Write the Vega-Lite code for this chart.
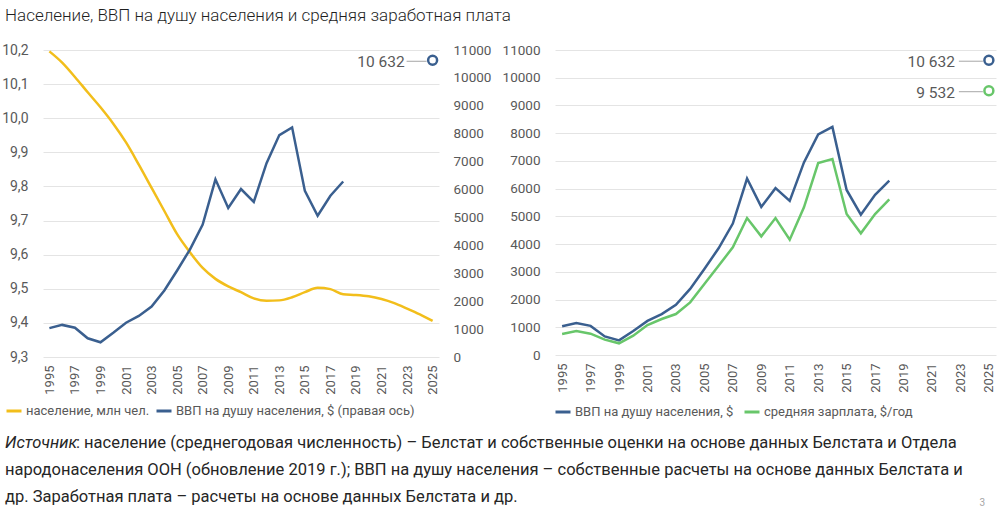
{
  "$schema": "https://vega.github.io/schema/vega-lite/v6.json",
  "padding": {"left": 0, "top": 7, "right": 0, "bottom": 0},
  "background": "white",
  "config": {
    "locale": {"number": {"decimal": ",", "thousands": "\u00a0", "grouping": [3], "currency": ["", ""]}},
    "font": "Roboto",
    "view": {"stroke": null},
    "axis": {"labelFont": "Roboto", "labelColor": "#595959", "domain": false, "ticks": false, "gridColor": "#e4e4e4", "gridWidth": 1, "labelOverlap": false, "labelBound": false, "labelFlush": false},
    "legend": {"labelFont": "Roboto", "labelColor": "#595959", "labelFontSize": 13, "labelLimit": 400}
  },
  "title": {"text": "Население, ВВП на душу населения и средняя заработная плата", "anchor": "start", "fontSize": 17, "fontWeight": 300, "font": "Roboto", "color": "#1f1f1f", "dx": 5, "offset": 18},
  "datasets": {
    "pop": [
      {"year": 1995, "value": 10.196}, {"year": 1996, "value": 10.163}, {"year": 1997, "value": 10.121},
      {"year": 1998, "value": 10.076}, {"year": 1999, "value": 10.032}, {"year": 2000, "value": 9.984},
      {"year": 2001, "value": 9.929}, {"year": 2002, "value": 9.864}, {"year": 2003, "value": 9.796},
      {"year": 2004, "value": 9.728}, {"year": 2005, "value": 9.66}, {"year": 2006, "value": 9.607},
      {"year": 2007, "value": 9.561}, {"year": 2008, "value": 9.529}, {"year": 2009, "value": 9.507},
      {"year": 2010, "value": 9.49}, {"year": 2011, "value": 9.472}, {"year": 2012, "value": 9.465},
      {"year": 2013, "value": 9.466}, {"year": 2014, "value": 9.475}, {"year": 2015, "value": 9.49},
      {"year": 2016, "value": 9.503}, {"year": 2017, "value": 9.499}, {"year": 2018, "value": 9.484},
      {"year": 2019, "value": 9.482}, {"year": 2020, "value": 9.478}, {"year": 2021, "value": 9.47},
      {"year": 2022, "value": 9.458}, {"year": 2023, "value": 9.442}, {"year": 2024, "value": 9.425},
      {"year": 2025, "value": 9.406}
    ],
    "gdp": [
      {"year": 1995, "value": 1035}, {"year": 1996, "value": 1150}, {"year": 1997, "value": 1050},
      {"year": 1998, "value": 670}, {"year": 1999, "value": 527}, {"year": 2000, "value": 868},
      {"year": 2001, "value": 1228}, {"year": 2002, "value": 1473}, {"year": 2003, "value": 1808},
      {"year": 2004, "value": 2383}, {"year": 2005, "value": 3100}, {"year": 2006, "value": 3850},
      {"year": 2007, "value": 4742}, {"year": 2008, "value": 6365}, {"year": 2009, "value": 5341},
      {"year": 2010, "value": 6018}, {"year": 2011, "value": 5557}, {"year": 2012, "value": 6946},
      {"year": 2013, "value": 7952}, {"year": 2014, "value": 8228}, {"year": 2015, "value": 5952},
      {"year": 2016, "value": 5060}, {"year": 2017, "value": 5778}, {"year": 2018, "value": 6288}
    ],
    "wage": [
      {"year": 1995, "value": 757}, {"year": 1996, "value": 865}, {"year": 1997, "value": 769},
      {"year": 1998, "value": 553}, {"year": 1999, "value": 421}, {"year": 2000, "value": 697},
      {"year": 2001, "value": 1082}, {"year": 2002, "value": 1298}, {"year": 2003, "value": 1478},
      {"year": 2004, "value": 1899}, {"year": 2005, "value": 2560}, {"year": 2006, "value": 3221},
      {"year": 2007, "value": 3882}, {"year": 2008, "value": 4940}, {"year": 2009, "value": 4279},
      {"year": 2010, "value": 4940}, {"year": 2011, "value": 4159}, {"year": 2012, "value": 5325},
      {"year": 2013, "value": 6923}, {"year": 2014, "value": 7067}, {"year": 2015, "value": 5084},
      {"year": 2016, "value": 4387}, {"year": 2017, "value": 5084}, {"year": 2018, "value": 5613}
    ],
    "annLeft": [{"year": 2025, "value": 10632, "series": "gdp"}],
    "annRight": [{"year": 2025, "value": 10632, "series": "gdp"}, {"year": 2025, "value": 9532, "series": "wage"}],
    "foot": [
      {"line": 1, "seg": "lead", "text": "Источник"},
      {"line": 1, "seg": "rest", "text": ": население (среднегодовая численность) – Белстат и собственные оценки на основе данных Белстата и Отдела"},
      {"line": 2, "seg": "full", "text": "народонаселения ООН (обновление 2019 г.); ВВП на душу населения – собственные расчеты на основе данных Белстата и"},
      {"line": 3, "seg": "full", "text": "др. Заработная плата – расчеты на основе данных Белстата и др."},
      {"line": 3, "seg": "page", "text": "3"}
    ]
  },
  "vconcat": [
    {
      "hconcat": [
        {
          "width": 396,
          "height": 307,
          "layer": [
            {
              "data": {"name": "pop"},
              "mark": {"type": "line", "strokeWidth": 2.5, "interpolate": "monotone"},
              "encoding": {
                "x": {"field": "year", "type": "quantitative", "scale": {"domain": [1994.5, 2025.5], "nice": false, "zero": false},
                  "axis": {"values": [1995, 1997, 1999, 2001, 2003, 2005, 2007, 2009, 2011, 2013, 2015, 2017, 2019, 2021, 2023, 2025], "format": "d", "labelAngle": -90, "grid": false, "labelFontSize": 13, "labelPadding": 8, "labelOverlap": false, "title": null}},
                "y": {"field": "value", "type": "quantitative", "scale": {"domain": [9.3, 10.2], "nice": false, "zero": false},
                  "axis": {"orient": "left", "values": [9.3, 9.4, 9.5, 9.6, 9.7, 9.8, 9.9, 10.0, 10.1, 10.2], "format": ".1f", "title": null, "labelFontSize": 14, "labelPadding": 15, "minExtent": 43, "grid": true, "labelOverlap": false}},
                "color": {"datum": "население, млн чел.",
                  "scale": {"domain": ["население, млн чел.", "ВВП на душу населения, $ (правая ось)"], "range": ["#F2BE1B", "#3A5F8F"]},
                  "legend": {"orient": "none", "legendX": -38, "legendY": 352, "direction": "horizontal", "title": null, "symbolType": "stroke", "symbolStrokeWidth": 3, "symbolSize": 225, "columnPadding": 0, "labelOffset": 3}}
              }
            },
            {
              "data": {"name": "gdp"},
              "mark": {"type": "line", "strokeWidth": 2.5},
              "encoding": {
                "x": {"field": "year", "type": "quantitative", "scale": {"domain": [1994.5, 2025.5], "nice": false, "zero": false}, "axis": null},
                "y": {"field": "value", "type": "quantitative", "scale": {"domain": [0, 11000], "nice": false},
                  "axis": {"orient": "right", "values": [0, 1000, 2000, 3000, 4000, 5000, 6000, 7000, 8000, 9000, 10000, 11000], "format": "d", "grid": false, "labelFontSize": 13.5, "labelPadding": 14, "minExtent": 50, "labelOverlap": false, "title": null}},
                "color": {"datum": "ВВП на душу населения, $ (правая ось)"}
              }
            },
            {
              "data": {"name": "annLeft"},
              "mark": {"type": "rule", "color": "#a6a6a6", "strokeWidth": 1, "xOffset": -26, "x2Offset": -6, "yOffset": 1},
              "encoding": {
                "x": {"field": "year", "type": "quantitative", "scale": {"domain": [1994.5, 2025.5], "nice": false, "zero": false}, "axis": null},
                "x2": {"field": "year"},
                "y": {"field": "value", "type": "quantitative", "scale": {"domain": [0, 11000], "nice": false}, "axis": null}
              }
            },
            {
              "data": {"name": "annLeft"},
              "mark": {"type": "point", "shape": "circle", "filled": false, "strokeWidth": 2.5, "size": 80, "color": "#3A5F8F", "opacity": 1},
              "encoding": {
                "x": {"field": "year", "type": "quantitative", "scale": {"domain": [1994.5, 2025.5], "nice": false, "zero": false}, "axis": null},
                "y": {"field": "value", "type": "quantitative", "scale": {"domain": [0, 11000], "nice": false}, "axis": null}
              }
            },
            {
              "data": {"name": "annLeft"},
              "mark": {"type": "text", "align": "right", "baseline": "middle", "dx": -28, "dy": 2, "fontSize": 15.5, "color": "#595959"},
              "encoding": {
                "x": {"field": "year", "type": "quantitative", "scale": {"domain": [1994.5, 2025.5], "nice": false, "zero": false}, "axis": null},
                "y": {"field": "value", "type": "quantitative", "scale": {"domain": [0, 11000], "nice": false}, "axis": null},
                "text": {"field": "value", "type": "quantitative", "format": ",d"}
              }
            }
          ],
          "resolve": {"scale": {"x": "independent", "y": "independent"}, "axis": {"x": "independent", "y": "independent"}}
        },
        {
          "width": 441,
          "height": 305,
          "layer": [
            {
              "data": {"name": "gdp"},
              "mark": {"type": "line", "strokeWidth": 2.5},
              "encoding": {
                "x": {"field": "year", "type": "quantitative", "scale": {"domain": [1994.5, 2025.5], "nice": false, "zero": false},
                  "axis": {"values": [1995, 1997, 1999, 2001, 2003, 2005, 2007, 2009, 2011, 2013, 2015, 2017, 2019, 2021, 2023, 2025], "format": "d", "labelAngle": -90, "grid": false, "labelFontSize": 13, "labelPadding": 8, "labelOverlap": false, "title": null}},
                "y": {"field": "value", "type": "quantitative", "scale": {"domain": [0, 11000], "nice": false},
                  "axis": {"orient": "left", "values": [0, 1000, 2000, 3000, 4000, 5000, 6000, 7000, 8000, 9000, 10000, 11000], "format": "d", "grid": true, "labelFontSize": 13.5, "labelPadding": 15, "minExtent": 60, "labelOverlap": false, "title": null}},
                "color": {"datum": "ВВП на душу населения, $",
                  "scale": {"domain": ["ВВП на душу населения, $", "средняя зарплата, $/год"], "range": ["#3A5F8F", "#68C66A"]},
                  "legend": {"orient": "none", "legendX": -1, "legendY": 353, "direction": "horizontal", "title": null, "symbolType": "stroke", "symbolStrokeWidth": 3, "symbolSize": 225, "columnPadding": 4, "labelOffset": 3}}
              }
            },
            {
              "data": {"name": "wage"},
              "mark": {"type": "line", "strokeWidth": 2.5},
              "encoding": {
                "x": {"field": "year", "type": "quantitative", "scale": {"domain": [1994.5, 2025.5], "nice": false, "zero": false}, "axis": null},
                "y": {"field": "value", "type": "quantitative", "scale": {"domain": [0, 11000], "nice": false}, "axis": null},
                "color": {"datum": "средняя зарплата, $/год"}
              }
            },
            {
              "data": {"name": "annRight"},
              "mark": {"type": "rule", "color": "#a6a6a6", "strokeWidth": 1, "xOffset": -30, "x2Offset": -6, "yOffset": 1},
              "encoding": {
                "x": {"field": "year", "type": "quantitative", "scale": {"domain": [1994.5, 2025.5], "nice": false, "zero": false}, "axis": null},
                "x2": {"field": "year"},
                "y": {"field": "value", "type": "quantitative", "scale": {"domain": [0, 11000], "nice": false}, "axis": null}
              }
            },
            {
              "data": {"name": "annRight"},
              "transform": [{"filter": "datum.series === 'gdp'"}],
              "mark": {"type": "point", "shape": "circle", "filled": false, "strokeWidth": 2.5, "size": 80, "color": "#3A5F8F", "opacity": 1},
              "encoding": {
                "x": {"field": "year", "type": "quantitative", "scale": {"domain": [1994.5, 2025.5], "nice": false, "zero": false}, "axis": null},
                "y": {"field": "value", "type": "quantitative", "scale": {"domain": [0, 11000], "nice": false}, "axis": null}
              }
            },
            {
              "data": {"name": "annRight"},
              "transform": [{"filter": "datum.series === 'wage'"}],
              "mark": {"type": "point", "shape": "circle", "filled": false, "strokeWidth": 2.5, "size": 80, "color": "#68C66A", "opacity": 1},
              "encoding": {
                "x": {"field": "year", "type": "quantitative", "scale": {"domain": [1994.5, 2025.5], "nice": false, "zero": false}, "axis": null},
                "y": {"field": "value", "type": "quantitative", "scale": {"domain": [0, 11000], "nice": false}, "axis": null}
              }
            },
            {
              "data": {"name": "annRight"},
              "mark": {"type": "text", "align": "right", "baseline": "middle", "dx": -34, "dy": 2, "fontSize": 15.5, "color": "#595959"},
              "encoding": {
                "x": {"field": "year", "type": "quantitative", "scale": {"domain": [1994.5, 2025.5], "nice": false, "zero": false}, "axis": null},
                "y": {"field": "value", "type": "quantitative", "scale": {"domain": [0, 11000], "nice": false}, "axis": null},
                "text": {"field": "value", "type": "quantitative", "format": ",d"}
              }
            }
          ],
          "resolve": {"scale": {"x": "independent", "y": "independent"}, "axis": {"x": "independent", "y": "independent"}}
        }
      ],
      "spacing": 4,
      "resolve": {"scale": {"color": "independent", "x": "independent", "y": "independent"}, "legend": {"color": "independent"}}
    },
    {
      "width": 942,
      "height": 80,
      "data": {"name": "foot"},
      "encoding": {
        "y": {"field": "line", "type": "ordinal", "scale": {"type": "point", "padding": 0.5}, "axis": null}
      },
      "layer": [
        {
          "transform": [{"filter": "datum.seg === 'lead'"}],
          "mark": {"type": "text", "align": "left", "baseline": "middle", "fontStyle": "italic", "fontSize": 16.5, "color": "#262626", "dx": -38},
          "encoding": {"x": {"value": 0}, "text": {"field": "text"}}
        },
        {
          "transform": [{"filter": "datum.seg === 'rest'"}],
          "mark": {"type": "text", "align": "left", "baseline": "middle", "fontSize": 16.5, "color": "#262626", "dx": 33},
          "encoding": {"x": {"value": 0}, "text": {"field": "text"}}
        },
        {
          "transform": [{"filter": "datum.seg === 'full'"}],
          "mark": {"type": "text", "align": "left", "baseline": "middle", "fontSize": 16.5, "color": "#262626", "dx": -38},
          "encoding": {"x": {"value": 0}, "text": {"field": "text"}}
        },
        {
          "transform": [{"filter": "datum.seg === 'page'"}],
          "mark": {"type": "text", "align": "right", "baseline": "middle", "fontSize": 10, "color": "#a6a6a6", "dy": 6},
          "encoding": {"x": {"value": "width"}, "text": {"field": "text"}}
        }
      ]
    }
  ],
  "spacing": 11
}
